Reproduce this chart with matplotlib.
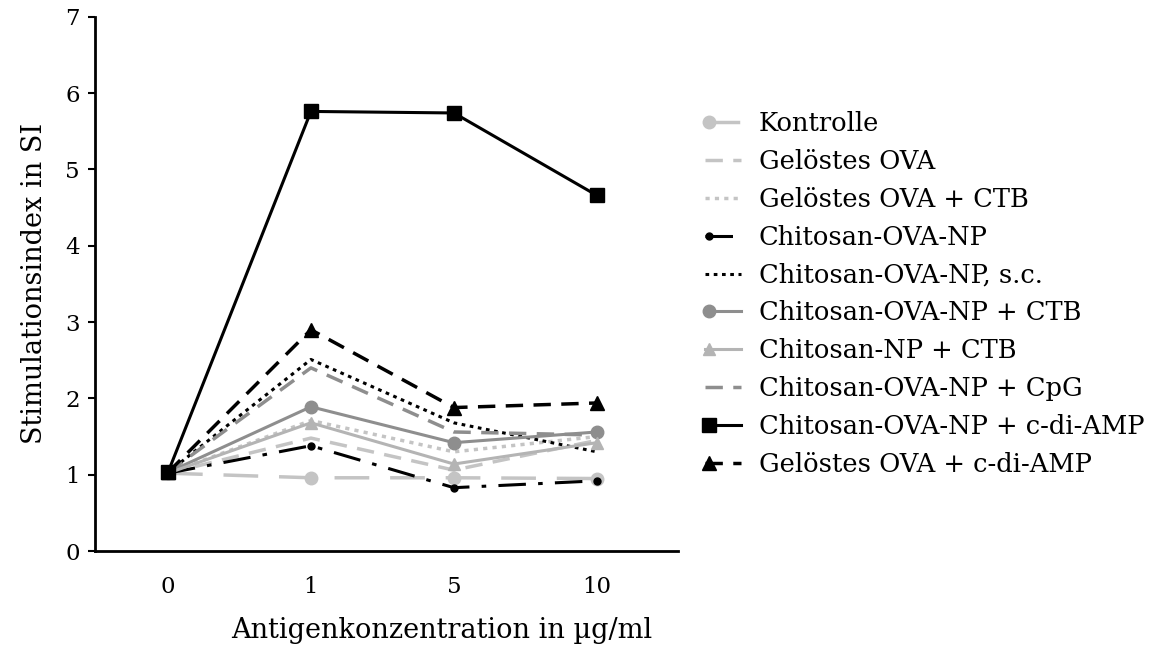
import matplotlib.pyplot as plt
from matplotlib.legend_handler import HandlerLine2D

plt.rcParams['font.family'] = ['DejaVu Serif']

conc = ["0", "1", "5", "10"]

kontrolle = [1.02, 0.96, 0.96, 0.95]
ova = [1.02, 1.48, 1.06, 1.45]
ova_ctb = [1.02, 1.71, 1.30, 1.50]
np_ova = [1.02, 1.38, 0.83, 0.92]
np_ova_sc = [1.03, 2.51, 1.68, 1.30]
np_ova_ctb = [1.03, 1.89, 1.42, 1.56]
np_ctb = [1.02, 1.68, 1.14, 1.42]
np_ova_cpg = [1.03, 2.40, 1.56, 1.52]
np_ova_cdiamp = [1.03, 5.76, 5.74, 4.66]
ova_cdiamp = [1.03, 2.90, 1.88, 1.94]


# legend handles with the marker sitting at the left end of the line
class LeftMarker(HandlerLine2D):
    def create_artists(self, legend, orig_handle, xdescent, ydescent,
                       width, height, fontsize, trans):
        arts = super().create_artists(legend, orig_handle, xdescent, ydescent,
                                      width, height, fontsize, trans)
        line = arts[0]
        xd = list(line.get_xdata())
        line.set_xdata([xd[0], xd[0] + 0.12 * width, xd[-1]])
        return arts


x = range(len(conc))

fig = plt.figure(figsize=(11.55, 6.46), dpi=100)
ax = fig.add_axes([0.0823, 0.147, 0.505, 0.827])

light = "#c4c4c4"
mid = "#8e8e8e"

ax.plot(x, kontrolle, color=light, lw=2.5, dashes=(10, 6), marker="o", ms=9,
        label="Kontrolle")
ax.plot(x, ova, color=light, lw=2.5, dashes=(5, 3), label="Gelöstes OVA")
ax.plot(x, ova_ctb, color=light, lw=2.5, dashes=(1.2, 1.5), label="Gelöstes OVA + CTB")
ax.plot(x, np_ova, color="black", lw=2.2, dashes=(9, 4, 1.5, 4), marker="o", ms=5,
        label="Chitosan-OVA-NP")
ax.plot(x, np_ova_sc, color="black", lw=2.2, dashes=(1.2, 1.5), label="Chitosan-OVA-NP, s.c.")
ax.plot(x, np_ova_ctb, color=mid, lw=2.2, marker="o", ms=9, label="Chitosan-OVA-NP + CTB")
ax.plot(x, np_ctb, color="#b4b4b4", lw=2.2, marker="^", ms=9, label="Chitosan-NP + CTB")
ax.plot(x, np_ova_cpg, color=mid, lw=2.5, dashes=(5, 3), label="Chitosan-OVA-NP + CpG")
ax.plot(x, np_ova_cdiamp, color="black", lw=2.2, marker="s", ms=10,
        label="Chitosan-OVA-NP + c-di-AMP")
ax.plot(x, ova_cdiamp, color="black", lw=2.5, dashes=(5, 3), marker="^", ms=10,
        label="Gelöstes OVA + c-di-AMP")

ax.set_xlim(-0.51, 3.57)
ax.set_ylim(0, 7)
ax.set_xticks(list(x))
ax.set_xticklabels(conc)
ax.set_yticks(range(8))
ax.tick_params(axis="x", length=0, pad=18, labelsize=16.5)
ax.tick_params(axis="y", length=5, width=1.5, labelsize=16.5, pad=6)
for side in ["top", "right"]:
    ax.spines[side].set_visible(False)
for side in ["left", "bottom"]:
    ax.spines[side].set_linewidth(2)

ax.set_xlabel("Antigenkonzentration in µg/ml", fontsize=19.5)
ax.xaxis.set_label_coords(0.595, -0.124)
ax.set_ylabel("Stimulationsindex in SI", fontsize=19.5, labelpad=12)

fig.legend(loc="upper left", bbox_to_anchor=(0.610, 0.828), frameon=False,
           fontsize=18.5, handlelength=1.4, handletextpad=0.7, labelspacing=0.5,
           borderaxespad=0, borderpad=0,
           handler_map={plt.Line2D: LeftMarker()})

fig.savefig("out.png", dpi=100)
